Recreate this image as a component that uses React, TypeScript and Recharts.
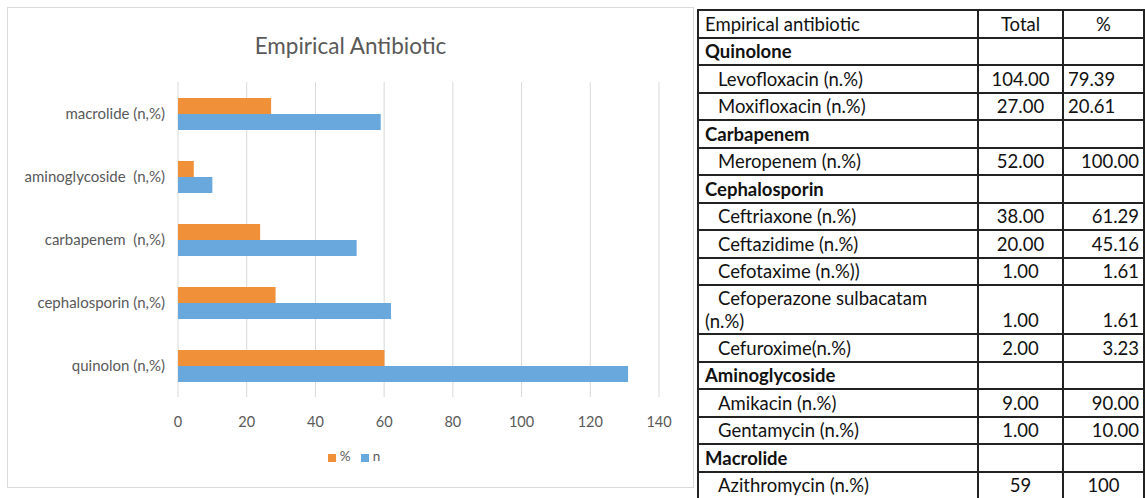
import { BarChart, Bar, XAxis, YAxis, CartesianGrid, Legend } from 'recharts'

const categories = [
    'macrolide (n,%)',
    'aminoglycoside\u00a0 (n,%)',
    'carbapenem\u00a0 (n,%)',
    'cephalosporin (n,%)',
    'quinolon (n,%)',
]
const percentValues = [27.1, 4.6, 23.9, 28.4, 60.1]
const countValues = [59, 10, 52, 62, 131]
const xTicks = [0, 20, 40, 60, 80, 100, 120, 140]

const tableHeader = ['Empirical antibiotic', 'Total', '%']
const tableLabels = [
    'Quinolone',
    'Levofloxacin (n.%)',
    'Moxifloxacin (n.%)',
    'Carbapenem',
    'Meropenem (n.%)',
    'Cephalosporin',
    'Ceftriaxone (n.%)',
    'Ceftazidime (n.%)',
    'Cefotaxime (n.%))',
    'Cefoperazone sulbacatam\n(n.%)',
    'Cefuroxime(n.%)',
    'Aminoglycoside',
    'Amikacin (n.%)',
    'Gentamycin (n.%)',
    'Macrolide',
    'Azithromycin (n.%)',
]
const tableTotals = ['', '104.00', '27.00', '', '52.00', '', '38.00', '20.00', '1.00', '1.00', '2.00', '', '9.00', '1.00', '', '59']
const tablePercents = ['', '79.39', '20.61', '', '100.00', '', '61.29', '45.16', '1.61', '1.61', '3.23', '', '90.00', '10.00', '', '100']
const groupRows = ['Quinolone', 'Carbapenem', 'Cephalosporin', 'Aminoglycoside', 'Macrolide']

// how the % column is aligned in the source table, row by row
const pctAlign: ('left' | 'right' | 'center')[] = [
    'left', 'left', 'left', 'right', 'right', 'right', 'right', 'right',
    'right', 'right', 'right', 'right', 'right', 'right', 'right', 'center',
]

const chartData = categories.map((name, i) => ({
    name,
    pct: percentValues[i],
    n: countValues[i],
}))

const GREY = '#595959'
const cellBorder = '2px solid #222'

const App = () => {
    return (
        <div
            style={{
                position: 'absolute',
                left: 0,
                top: 0,
                width: 1145,
                height: 498,
                overflow: 'hidden',
                background: '#fff',
                fontFamily: 'Lato, sans-serif',
            }}
        >
            <div
                style={{
                    position: 'absolute',
                    left: 7,
                    top: 7,
                    width: 687,
                    height: 481,
                    border: '1px solid #D9D9D9',
                    boxSizing: 'border-box',
                }}
            >
                <div
                    style={{
                        position: 'absolute',
                        top: 24,
                        width: '100%',
                        height: 28,
                        lineHeight: '28px',
                        textAlign: 'center',
                        fontSize: 22.5,
                        color: GREY,
                    }}
                >
                    Empirical Antibiotic
                </div>
                <BarChart
                    width={685}
                    height={479}
                    data={chartData}
                    layout="vertical"
                    margin={{ top: 74, right: 34, left: 10, bottom: 60 }}
                    barSize={16}
                    barGap={0}
                >
                    <CartesianGrid horizontal={false} stroke="#D9D9D9" />
                    <XAxis
                        type="number"
                        domain={[0, 140]}
                        ticks={xTicks}
                        axisLine={false}
                        tickLine={false}
                        tickMargin={14}
                        height={30}
                        tick={{ fill: GREY, fontSize: 14.5 }}
                    />
                    <YAxis
                        type="category"
                        dataKey="name"
                        width={160}
                        axisLine={false}
                        tickLine={false}
                        tickMargin={7}
                        tick={{ fill: GREY, fontSize: 15 }}
                    />
                    <Legend
                        verticalAlign="middle"
                        align="center"
                        iconType="square"
                        iconSize={8}
                        wrapperStyle={{ top: 440, left: 9, width: 684, fontSize: 13.5 }}
                        formatter={(value) => <span style={{ color: GREY }}>{value}</span>}
                    />
                    <Bar dataKey="pct" name="%" fill="#F0913A" isAnimationActive={false} />
                    <Bar dataKey="n" name="n" fill="#68A8DD" isAnimationActive={false} />
                </BarChart>
            </div>

            <table
                style={{
                    position: 'absolute',
                    left: 697,
                    top: 9,
                    width: 446,
                    borderCollapse: 'collapse',
                    tableLayout: 'fixed',
                    fontSize: 18.5,
                    color: '#111',
                }}
            >
                <colgroup>
                    <col style={{ width: 280 }} />
                    <col style={{ width: 85 }} />
                    <col style={{ width: 81 }} />
                </colgroup>
                <tbody>
                    <tr style={{ height: 27.5 }}>
                        <td style={{ border: cellBorder, padding: '0 6px' }}>{tableHeader[0]}</td>
                        <td style={{ border: cellBorder, textAlign: 'center', padding: 0 }}>{tableHeader[1]}</td>
                        <td style={{ border: cellBorder, textAlign: 'center', padding: 0 }}>{tableHeader[2]}</td>
                    </tr>
                    {tableLabels.map((label, i) => {
                        const isGroup = groupRows.includes(label)
                        const twoLines = label.includes('\n')
                        return (
                            <tr key={label} style={{ height: twoLines ? 49 : 27.5 }}>
                                <td
                                    style={{
                                        border: cellBorder,
                                        padding: '0 6px',
                                        fontWeight: isGroup ? 700 : 400,
                                        textIndent: isGroup ? 0 : 13,
                                        whiteSpace: 'pre-line',
                                        lineHeight: twoLines ? '23px' : '24px',
                                    }}
                                >
                                    {label}
                                </td>
                                <td
                                    style={{
                                        border: cellBorder,
                                        textAlign: 'center',
                                        padding: 0,
                                        lineHeight: '24px',
                                        verticalAlign: twoLines ? 'bottom' : 'middle',
                                        paddingBottom: twoLines ? 1 : 0,
                                    }}
                                >
                                    {tableTotals[i]}
                                </td>
                                <td
                                    style={{
                                        border: cellBorder,
                                        textAlign: pctAlign[i],
                                        padding: '0 4px',
                                        lineHeight: '24px',
                                        verticalAlign: twoLines ? 'bottom' : 'middle',
                                        paddingBottom: twoLines ? 1 : 0,
                                    }}
                                >
                                    {tablePercents[i]}
                                </td>
                            </tr>
                        )
                    })}
                </tbody>
            </table>
        </div>
    )
}

export default App
